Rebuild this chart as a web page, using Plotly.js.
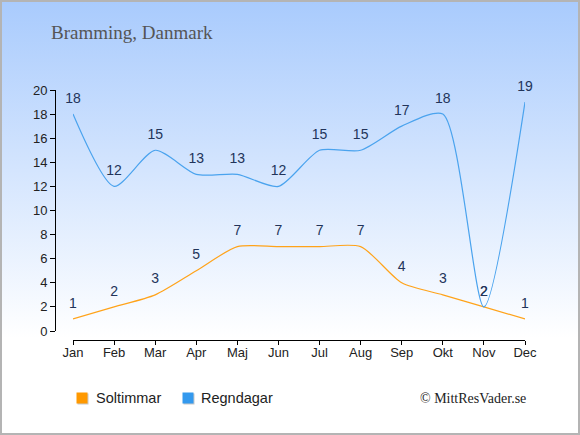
<!DOCTYPE html>
<html>
<head>
<meta charset="utf-8">
<script src="https://cdn.plot.ly/plotly-3.0.1.min.js"></script>
<style>
html,body{margin:0;padding:0;}
#wrap{width:580px;height:435px;box-sizing:border-box;border:2px solid #b4b4b4;
 background:linear-gradient(to bottom,#a9cbfd 0%,#ffffff 78%,#ffffff 100%);position:relative;overflow:hidden;}
#chart{position:absolute;left:-2px;top:-2px;width:580px;height:435px;}
</style>
</head>
<body>
<div id="wrap"><div id="chart"></div></div>
<script>
const months = ["Jan","Feb","Mar","Apr","Maj","Jun","Jul","Aug","Sep","Okt","Nov","Dec"];
const sunHours = [1,2,3,5,7,7,7,7,4,3,2,1];
const rainDays = [18,12,15,13,13,12,15,15,17,18,2,19];
const sunName = "Soltimmar";
const rainName = "Regndagar";
const titleText = "Bramming, Danmark";
const creditText = "© MittResVader.se";

const sunColor = "#ffa31a";
const rainColor = "#4aa3ee";
const labelColor = "#22345a";

function lineTrace(vals, color) {
  return {x: months, y: vals, mode: "lines+markers+text", text: vals.map(String), textposition: "top center",
   cliponaxis: false,
   textfont: {family: "Liberation Sans, Arial", size: 14, color: labelColor},
   marker: {size: 11, color: "rgba(0,0,0,0)"},
   line: {color: color, width: 1.2, shape: "spline", smoothing: 0.7}, showlegend: false, hoverinfo: "skip"};
}
const traces = [lineTrace(sunHours, sunColor), lineTrace(rainDays, rainColor)];

const L = 55, R = 55, T = 90, B = 95;
const W = 580 - L - R, H = 435 - T - B;
const px = v => (v - L) / W;
const py = v => 1 - (v - T) / H;

function legendItems(items) {
  const out = [];
  items.forEach(it => {
    out.push({text: "", xref: "paper", yref: "paper", x: px(it.sx + 1), y: py(it.y + 1), xanchor: "center", yanchor: "middle",
              width: 10, height: 10, bgcolor: "#c8c8c8", borderpad: 0, showarrow: false});
    out.push({text: "", xref: "paper", yref: "paper", x: px(it.sx), y: py(it.y), xanchor: "center", yanchor: "middle",
              width: 10, height: 10, bgcolor: it.color, borderpad: 0, showarrow: false});
    out.push({text: it.name, xref: "paper", yref: "paper", x: px(it.tx), y: py(it.y), xanchor: "left", yanchor: "middle",
              showarrow: false, font: {family: "Liberation Sans, Arial", size: 14.5, color: "#222"}});
  });
  return out;
}

const layout = {
  width: 580, height: 435,
  paper_bgcolor: "rgba(0,0,0,0)", plot_bgcolor: "rgba(0,0,0,0)",
  margin: {l: L, r: R, t: T, b: B, pad: 0},
  font: {family: "Liberation Sans, Arial", size: 13, color: "#222"},
  title: {text: titleText, font: {family: "Liberation Serif, Georgia, serif", size: 19, color: "#555"},
          x: 51/580, xanchor: "left", xref: "container", y: 1 - 32/435, yanchor: "middle", yref: "container"},
  xaxis: {type: "category", range: [0, 11], domain: [(73 - L)/W, 1], anchor: "free", position: 0,
          showgrid: false, zeroline: false, showline: true, linecolor: "#000", linewidth: 1,
          ticks: "outside", ticklen: 4, tickcolor: "#000", ticklabelstandoff: -4,
          tickfont: {size: 13, color: "#222"}, fixedrange: true},
  yaxis: {range: [0, 20], domain: [9/H, 1], anchor: "free", position: 0, dtick: 2,
          showgrid: false, zeroline: false, showline: true, linecolor: "#000", linewidth: 1,
          ticks: "outside", ticklen: 5, tickcolor: "#000", tickfont: {size: 13, color: "#222"}, fixedrange: true},
  annotations: legendItems([
    {name: sunName, color: "#ff9900", sx: 82, tx: 94, y: 398},
    {name: rainName, color: "#3399ee", sx: 188, tx: 199, y: 398}
  ]).concat([{text: creditText, xref: "paper", yref: "paper", x: px(528), xanchor: "right",
                 y: py(398), yanchor: "middle", showarrow: false,
                 font: {family: "Liberation Serif, Georgia, serif", size: 14, color: "#222"}}]),
  showlegend: false
};

Plotly.newPlot("chart", traces, layout, {staticPlot: true, displayModeBar: false});
</script>
</body>
</html>
